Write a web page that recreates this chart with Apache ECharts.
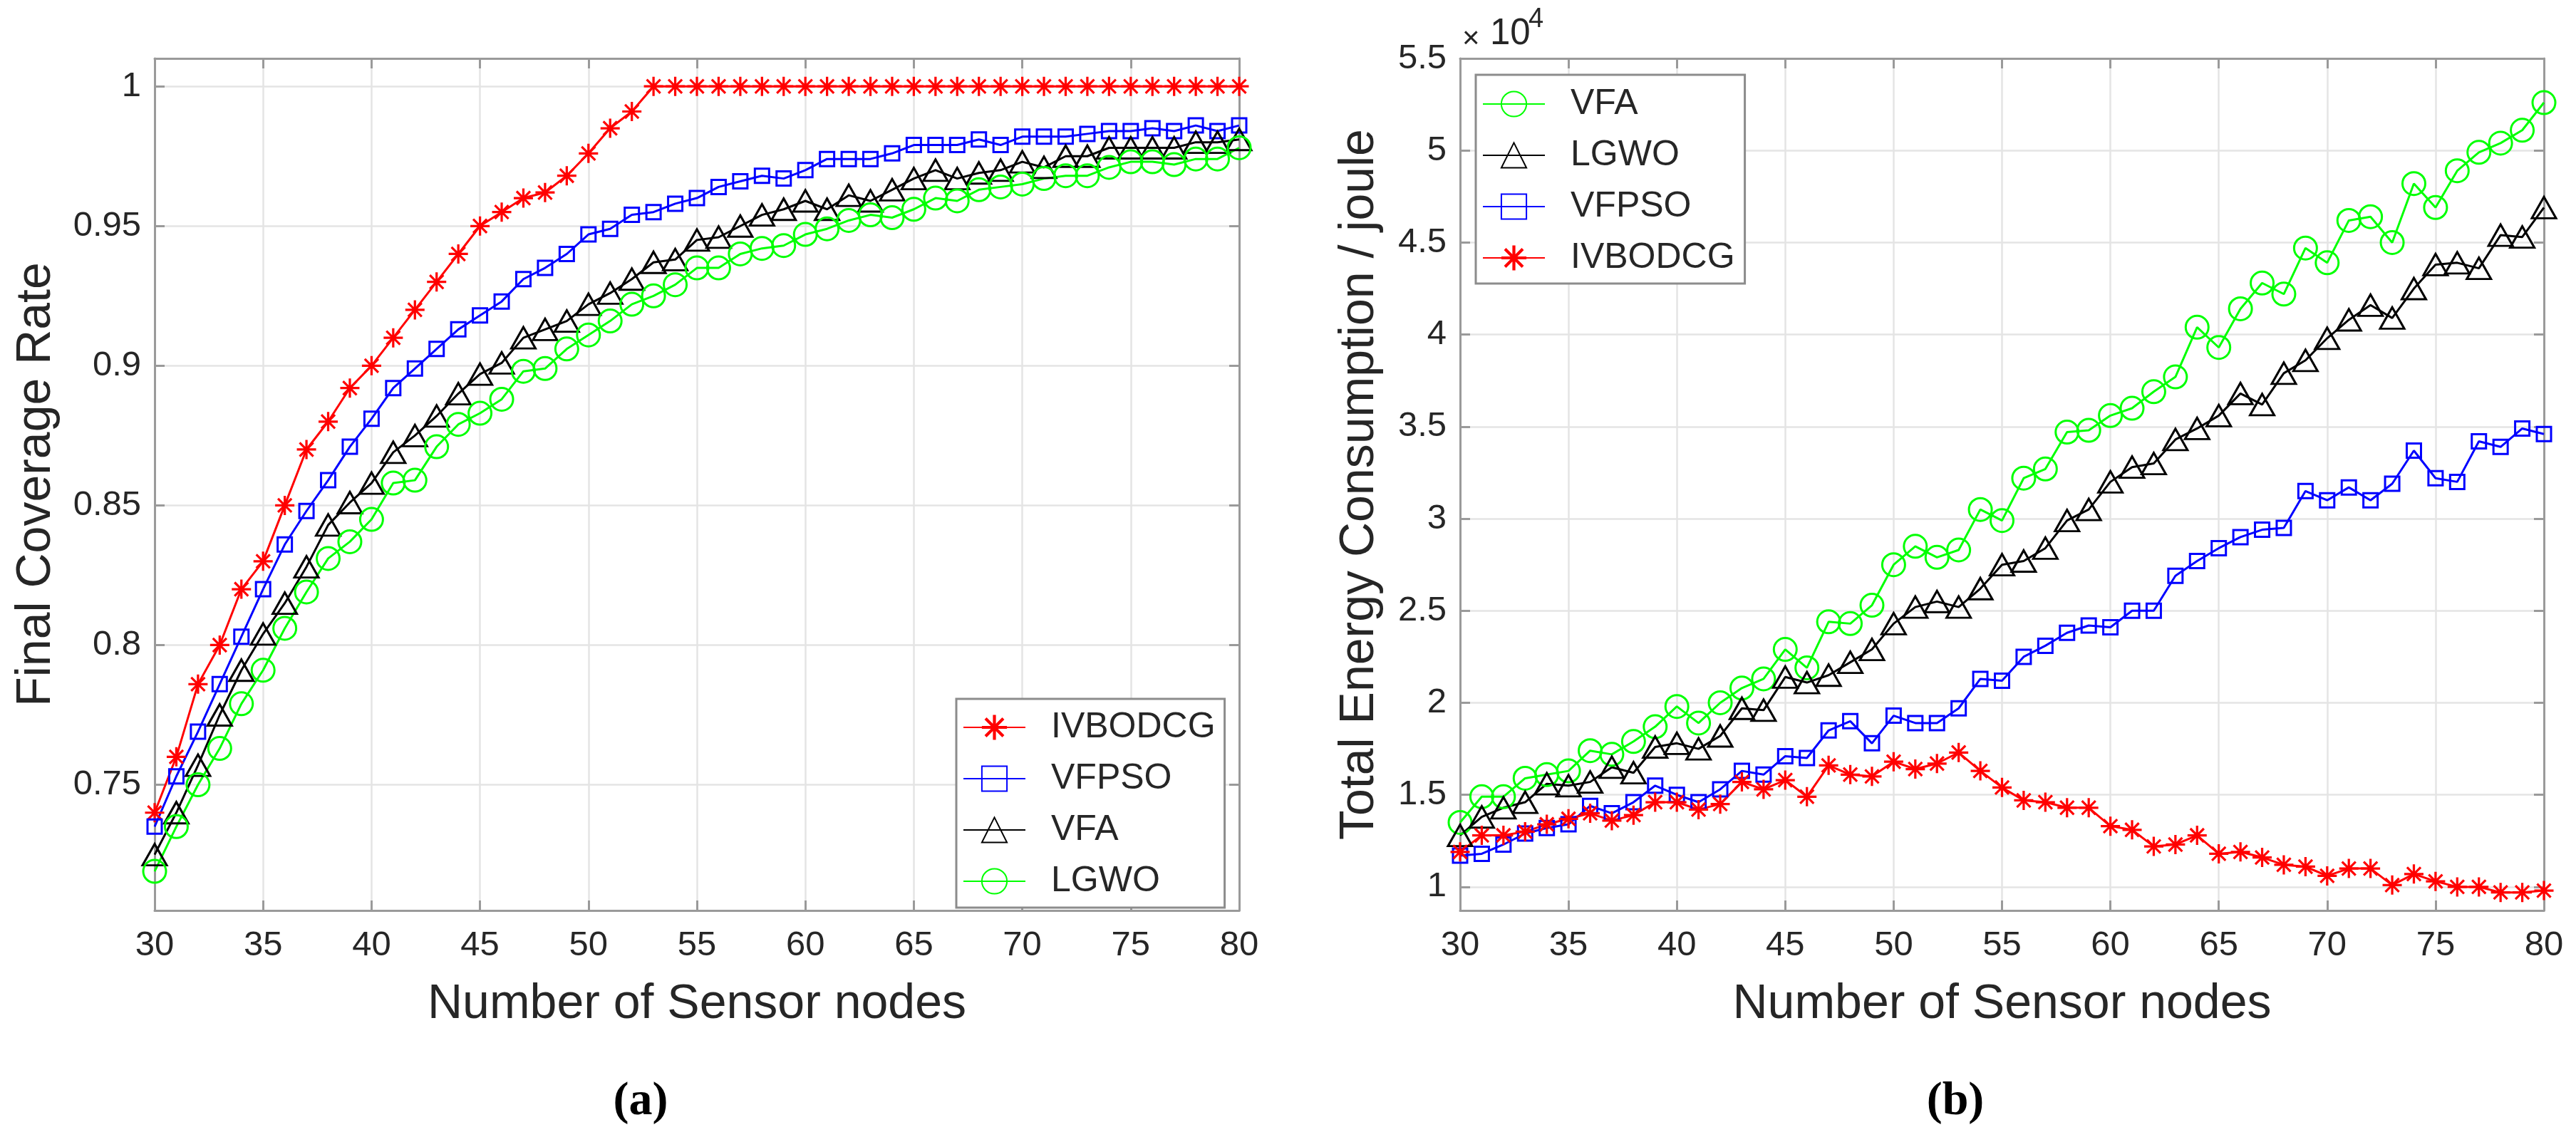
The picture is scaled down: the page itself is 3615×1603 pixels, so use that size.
<!DOCTYPE html>
<html>
<head>
<meta charset="utf-8">
<title>Coverage and energy</title>
<script src="https://cdn.jsdelivr.net/npm/echarts@6/dist/echarts.min.js"></script>
<style>
  html, body { margin: 0; padding: 0; background: #fff; }
  #chart { width: 3615px; height: 1603px; }
</style>
</head>
<body>
<div id="chart"></div>
<script>
// x values (number of sensor nodes)
const nodeCounts = [30, 31, 32, 33, 34, 35, 36, 37, 38, 39, 40, 41, 42, 43, 44, 45, 46, 47, 48, 49, 50,
  51, 52, 53, 54, 55, 56, 57, 58, 59, 60, 61, 62, 63, 64, 65, 66, 67, 68, 69, 70,
  71, 72, 73, 74, 75, 76, 77, 78, 79, 80]

// (a) final coverage rate
const coverageTicks = [0.75, 0.8, 0.85, 0.9, 0.95, 1]
const coverageIVBODCG = [0.740, 0.760, 0.786, 0.800, 0.820, 0.830, 0.850, 0.870, 0.880, 0.892, 0.900,
  0.910, 0.920, 0.930, 0.940, 0.950, 0.955, 0.960, 0.962, 0.968, 0.976, 0.985, 0.991,
  1, 1, 1, 1, 1, 1, 1, 1, 1, 1, 1, 1, 1, 1, 1, 1, 1, 1, 1, 1, 1, 1, 1, 1, 1, 1, 1, 1]
const coverageVFPSO = [0.735, 0.753, 0.769, 0.786, 0.803, 0.820, 0.836, 0.848, 0.859, 0.871, 0.881,
  0.892, 0.899, 0.906, 0.913, 0.918, 0.923, 0.931, 0.935, 0.940, 0.947, 0.949, 0.954,
  0.955, 0.958, 0.960, 0.964, 0.966, 0.968, 0.967, 0.970, 0.974, 0.974, 0.974, 0.976,
  0.979, 0.979, 0.979, 0.981, 0.979, 0.982, 0.982, 0.982, 0.983, 0.984, 0.984, 0.985,
  0.984, 0.986, 0.984, 0.986]
const coverageVFA = [0.725, 0.740, 0.757, 0.775, 0.791, 0.804, 0.815, 0.828, 0.843, 0.851, 0.858,
  0.869, 0.875, 0.882, 0.890, 0.897, 0.901, 0.910, 0.913, 0.916, 0.922, 0.926, 0.931,
  0.937, 0.938, 0.945, 0.946, 0.950, 0.954, 0.956, 0.959, 0.956, 0.961, 0.959, 0.963,
  0.967, 0.970, 0.967, 0.969, 0.970, 0.973, 0.971, 0.975, 0.975, 0.978, 0.978, 0.978,
  0.978, 0.980, 0.980, 0.981]
const coverageLGWO = [0.719, 0.735, 0.750, 0.763, 0.779, 0.791, 0.806, 0.819, 0.831, 0.837, 0.845,
  0.858, 0.859, 0.871, 0.879, 0.883, 0.888, 0.898, 0.899, 0.906, 0.911, 0.916, 0.922,
  0.925, 0.929, 0.935, 0.935, 0.940, 0.942, 0.943, 0.947, 0.949, 0.952, 0.954, 0.953,
  0.956, 0.960, 0.959, 0.963, 0.964, 0.965, 0.967, 0.968, 0.968, 0.971, 0.973, 0.973,
  0.972, 0.974, 0.974, 0.978]

// (b) total energy consumption, in units of 10^4 joule
const energyTicks = [1, 1.5, 2, 2.5, 3, 3.5, 4, 4.5, 5, 5.5]
const energyVFA = [1.35, 1.49, 1.49, 1.59, 1.61, 1.63, 1.74, 1.72, 1.79, 1.87, 1.98,
  1.89, 2.00, 2.08, 2.13, 2.29, 2.19, 2.44, 2.43, 2.53, 2.75, 2.85, 2.79,
  2.83, 3.05, 2.99, 3.22, 3.27, 3.47, 3.48, 3.56, 3.60, 3.69, 3.77, 4.04,
  3.93, 4.14, 4.28, 4.22, 4.47, 4.39, 4.62, 4.64, 4.50, 4.82, 4.69, 4.89,
  4.99, 5.04, 5.11, 5.26]
const energyLGWO = [1.28, 1.38, 1.43, 1.46, 1.56, 1.55, 1.57, 1.65, 1.62, 1.76, 1.78,
  1.75, 1.82, 1.97, 1.96, 2.14, 2.11, 2.15, 2.22, 2.29, 2.43, 2.52, 2.55,
  2.52, 2.62, 2.75, 2.77, 2.84, 2.99, 3.05, 3.20, 3.28, 3.30, 3.43, 3.49,
  3.56, 3.68, 3.62, 3.79, 3.86, 3.98, 4.08, 4.16, 4.09, 4.25, 4.38, 4.39,
  4.36, 4.54, 4.53, 4.69]
const energyVFPSO = [1.17, 1.18, 1.23, 1.29, 1.32, 1.34, 1.44, 1.40, 1.46, 1.55, 1.50,
  1.46, 1.53, 1.63, 1.61, 1.71, 1.70, 1.85, 1.90, 1.78, 1.93, 1.89, 1.89,
  1.97, 2.13, 2.12, 2.25, 2.31, 2.38, 2.42, 2.41, 2.50, 2.50, 2.69, 2.77,
  2.84, 2.90, 2.94, 2.95, 3.15, 3.10, 3.17, 3.10, 3.19, 3.37, 3.22, 3.20,
  3.42, 3.39, 3.49, 3.46]
const energyIVBODCG = [1.19, 1.28, 1.28, 1.30, 1.34, 1.37, 1.40, 1.36, 1.39, 1.46, 1.46,
  1.42, 1.45, 1.57, 1.53, 1.58, 1.49, 1.66, 1.61, 1.60, 1.68, 1.64, 1.67,
  1.73, 1.63, 1.54, 1.47, 1.46, 1.43, 1.43, 1.33, 1.31, 1.22, 1.23, 1.28,
  1.18, 1.19, 1.16, 1.12, 1.11, 1.06, 1.10, 1.10, 1.01, 1.07, 1.03, 1.00,
  1.00, 0.97, 0.97, 0.98]

const FONT = '"Liberation Sans", Arial, Helvetica, sans-serif'
const SERIF = '"Liberation Serif", "Times New Roman", serif'
const TEXT = '#262626'
const AXIS = '#9a9a9a'
const GRIDLINE = '#e4e4e4'

// matlab style markers
const ASTERISK = 'path://M0 44L100 44L100 56L0 56Z M44 0L56 0L56 100L44 100Z ' +
  'M10.4 18.8L18.8 10.4L89.6 81.2L81.2 89.6Z M81.2 10.4L89.6 18.8L18.8 89.6L10.4 81.2Z'
const looks = {
  red: { symbol: ASTERISK, symbolSize: 27, color: '#ff0000', fill: '#ff0000', border: 0 },
  blue: { symbol: 'rect', symbolSize: 20, color: '#0000ff', fill: 'rgba(0,0,0,0)', border: 3 },
  black: { symbol: 'triangle', symbolSize: [34, 30], color: '#000000', fill: 'rgba(0,0,0,0)', border: 3 },
  green: { symbol: 'circle', symbolSize: 32, color: '#00ff00', fill: 'rgba(0,0,0,0)', border: 3 }
}

const makeSeries = (id, values, axisIndex, look) => ({
  type: 'line',
  name: id,
  xAxisIndex: axisIndex,
  yAxisIndex: axisIndex,
  data: nodeCounts.map((n, i) => [n, values[i]]),
  symbol: look.symbol,
  symbolSize: look.symbolSize,
  showAllSymbol: true,
  symbolKeepAspect: true,
  lineStyle: { color: look.color, width: 3 },
  itemStyle: { color: look.fill, borderColor: look.color, borderWidth: look.border },
  emphasis: { disabled: true },
  animation: false
})

const xAxisFor = (gridIndex, top) => ({
  type: 'value',
  gridIndex: gridIndex,
  position: top ? 'top' : 'bottom',
  min: 30,
  max: 80,
  interval: 5,
  axisLine: { show: true, onZero: false, lineStyle: { color: AXIS, width: 3 } },
  axisTick: { show: true, inside: true, length: 14, lineStyle: { color: AXIS, width: 3 } },
  axisLabel: {
    show: !top, margin: 25, fontSize: 49, color: TEXT, fontFamily: FONT
  },
  splitLine: { show: !top, lineStyle: { color: GRIDLINE, width: 2.5 } },
  name: top ? '' : 'Number of Sensor nodes',
  nameLocation: 'middle',
  nameGap: 98,
  nameTextStyle: { fontSize: 68, color: TEXT, fontFamily: FONT }
})

const yAxisFor = (gridIndex, right, range, ticks, name, nameGap) => ({
  type: 'value',
  gridIndex: gridIndex,
  position: right ? 'right' : 'left',
  min: range[0],
  max: range[1],
  axisLine: { show: true, onZero: false, lineStyle: { color: AXIS, width: 3 } },
  axisTick: {
    show: true, inside: true, length: 14, customValues: ticks,
    lineStyle: { color: AXIS, width: 3 }
  },
  axisLabel: {
    show: !right, margin: 19, fontSize: 49, color: TEXT, fontFamily: FONT,
    customValues: ticks,
    formatter: (v) => String(Math.round(v * 100) / 100)
  },
  splitLine: { show: !right, lineStyle: { color: GRIDLINE, width: 2.5 } },
  name: right ? '' : name,
  nameLocation: 'middle',
  nameGap: nameGap,
  nameTextStyle: { fontSize: 68, color: TEXT, fontFamily: FONT }
})

const legendFor = (names, pos) => ({
  data: names,
  orient: 'vertical',
  left: pos.left,
  top: pos.top,
  padding: pos.padding,
  itemWidth: 87,
  itemHeight: 44,
  itemGap: 22,
  selectedMode: false,
  backgroundColor: '#ffffff',
  borderColor: '#8c8c8c',
  borderWidth: 3,
  formatter: (n) => n.slice(2),
  textStyle: { fontSize: 50, lineHeight: 44, color: TEXT, fontFamily: FONT, padding: [0, 0, 0, 31] }
})

const options = {
  backgroundColor: '#ffffff',
  animation: false,
  grid: [
    { left: 217, top: 82, width: 1522, height: 1196, outerBoundsMode: 'none' },
    { left: 2049, top: 82, width: 1521, height: 1196, outerBoundsMode: 'none' }
  ],
  xAxis: [xAxisFor(0, false), xAxisFor(1, false), xAxisFor(0, true), xAxisFor(1, true)],
  yAxis: [
    yAxisFor(0, false, [0.705, 1.01], coverageTicks, 'Final Coverage Rate', 132),
    yAxisFor(1, false, [0.872, 5.5], energyTicks, 'Total Energy Consumption / joule', 107),
    yAxisFor(0, true, [0.705, 1.01], coverageTicks, '', 0),
    yAxisFor(1, true, [0.872, 5.5], energyTicks, '', 0)
  ],
  legend: [
    legendFor(['a:IVBODCG', 'a:VFPSO', 'a:VFA', 'a:LGWO'], { left: 1342, top: 981, padding: [15, 13, 12, 9] }),
    legendFor(['b:VFA', 'b:LGWO', 'b:VFPSO', 'b:IVBODCG'], { left: 2071, top: 105, padding: [16, 14, 11, 9] })
  ],
  tooltip: { show: false },
  series: [
    makeSeries('a:IVBODCG', coverageIVBODCG, 0, looks.red),
    makeSeries('a:VFPSO', coverageVFPSO, 0, looks.blue),
    makeSeries('a:VFA', coverageVFA, 0, looks.black),
    makeSeries('a:LGWO', coverageLGWO, 0, looks.green),
    makeSeries('b:VFA', energyVFA, 1, looks.green),
    makeSeries('b:LGWO', energyLGWO, 1, looks.black),
    makeSeries('b:VFPSO', energyVFPSO, 1, looks.blue),
    makeSeries('b:IVBODCG', energyIVBODCG, 1, looks.red)
  ],
  graphic: [
    // x10^4 exponent of the energy axis
    { type: 'text', left: 2052, top: 34, style: { text: '×', fontSize: 42, fill: TEXT, fontFamily: FONT } },
    { type: 'text', left: 2091, top: 22, style: { text: '10', fontSize: 51, fill: TEXT, fontFamily: FONT } },
    { type: 'text', left: 2145, top: 9, style: { text: '4', fontSize: 38, fill: TEXT, fontFamily: FONT } },
    // panel captions
    {
      type: 'text', x: 899, y: 1547,
      style: { text: '(a)', fontSize: 66, fontWeight: 'bold', fill: '#000', fontFamily: SERIF, align: 'center', verticalAlign: 'middle' }
    },
    {
      type: 'text', x: 2744, y: 1547,
      style: { text: '(b)', fontSize: 66, fontWeight: 'bold', fill: '#000', fontFamily: SERIF, align: 'center', verticalAlign: 'middle' }
    }
  ]
}

// 初始化
const chartInstance = echarts.init(document.getElementById('chart'), null, { renderer: 'canvas' })
chartInstance.setOption(options)
</script>
</body>
</html>
